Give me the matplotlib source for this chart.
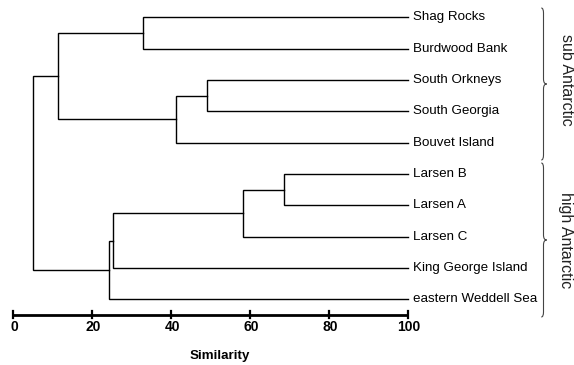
import matplotlib
matplotlib.use("Agg")
import matplotlib.pyplot as plt
from matplotlib.path import Path
from matplotlib.patches import PathPatch
from matplotlib.transforms import Affine2D

plt.rcParams['font.family'] = ['Liberation Sans', 'DejaVu Sans']

# ---- data ----
leaves = ["Shag Rocks", "Burdwood Bank", "South Orkneys", "South Georgia",
          "Bouvet Island", "Larsen B", "Larsen A", "Larsen C",
          "King George Island", "eastern Weddell Sea"]
# merges: (child_a, child_b, similarity); children are leaf indices (0..9)
# or cluster ids starting at 10 (scipy-like numbering)
merge_a = [0, 2, 11, 10, 5, 14, 15, 16, 13]
merge_b = [1, 3, 4, 12, 6, 7, 8, 9, 17]
merge_sim = [33.0, 49.0, 41.3, 11.3, 68.7, 58.3, 25.4, 24.3, 5.0]
leaf_sim = 100.0
xticks = [0, 20, 40, 60, 80, 100]
xlabel = "Similarity"
groups = ["sub Antarctic", "high Antarctic"]

W, H = 574, 365
fig = plt.figure(figsize=(W / 100, H / 100), dpi=100)
x0px, x1px = 13.3, 407.7
y0px, dy = 17.3, 31.33
ax = fig.add_axes([x0px / W, 0, (x1px - x0px) / W, 1])
ax.set_xlim(0, 100)
ax.set_ylim((H - y0px) / dy, -y0px / dy)
ax.axis("off")

n = len(leaves)
pos = {i: (leaf_sim, float(i)) for i in range(n)}
for k, (a, b, s) in enumerate(zip(merge_a, merge_b, merge_sim)):
    xa, ya = pos[a]
    xb, yb = pos[b]
    ax.plot([xa, s, s, xb], [ya, ya, yb, yb], color="black", lw=1.0,
            solid_joinstyle="miter", clip_on=False)
    pos[n + k] = (s, (ya + yb) / 2)

# leaf labels
for i, name in enumerate(leaves):
    ax.annotate(name, (leaf_sim, i), xytext=(5, 0), textcoords="offset pixels",
                ha="left", va="center", fontsize=9.6, color="black")

# axis
yax = n - 0.5
ax.plot([0, 100], [yax, yax], color="black", lw=2.0, clip_on=False,
        solid_capstyle="butt")
for t in xticks:
    ax.plot([t, t], [yax - 0.11, yax + 0.11], color="black", lw=1.6,
            clip_on=False)
    ax.annotate(str(t), (t, yax), xytext=(1.5, -12.5), textcoords="offset pixels",
                ha="center", va="center", fontsize=10, fontweight="bold")
ax.annotate(xlabel, (52.4, yax), xytext=(0, -41), textcoords="offset pixels",
            ha="center", va="center", fontsize=9.6, fontweight="bold")

# braces (figure pixel coordinates, y downward)
tr = Affine2D().scale(1, -1).translate(0, H) + Affine2D().scale(1 / W, 1 / H) + fig.transFigure


def brace(xc, top, bot, mid):
    verts = [(xc - 2.2, top), (xc, top), (xc, top + 5),
             (xc, mid - 5),
             (xc, mid), (xc + 3.2, mid),
             (xc, mid), (xc, mid + 5),
             (xc, bot - 5),
             (xc, bot), (xc - 2.2, bot)]
    codes = [Path.MOVETO, Path.CURVE3, Path.CURVE3, Path.LINETO,
             Path.CURVE3, Path.CURVE3, Path.CURVE3, Path.CURVE3,
             Path.LINETO, Path.CURVE3, Path.CURVE3]
    p = PathPatch(Path(verts, codes), fill=False, lw=0.8, color="#444444",
                  transform=tr)
    fig.add_artist(p)


brace(543.5, 8, 160, 84)
brace(543.5, 163, 317, 240)

fig.text(566 / W, 1 - 80 / H, groups[0], rotation=-90, ha="center", va="center",
         fontsize=11.5, color="#222222")
fig.text(566 / W, 1 - 240 / H, groups[1], rotation=-90, ha="center", va="center",
         fontsize=11.5, color="#222222")

fig.savefig("out.png", dpi=100)
